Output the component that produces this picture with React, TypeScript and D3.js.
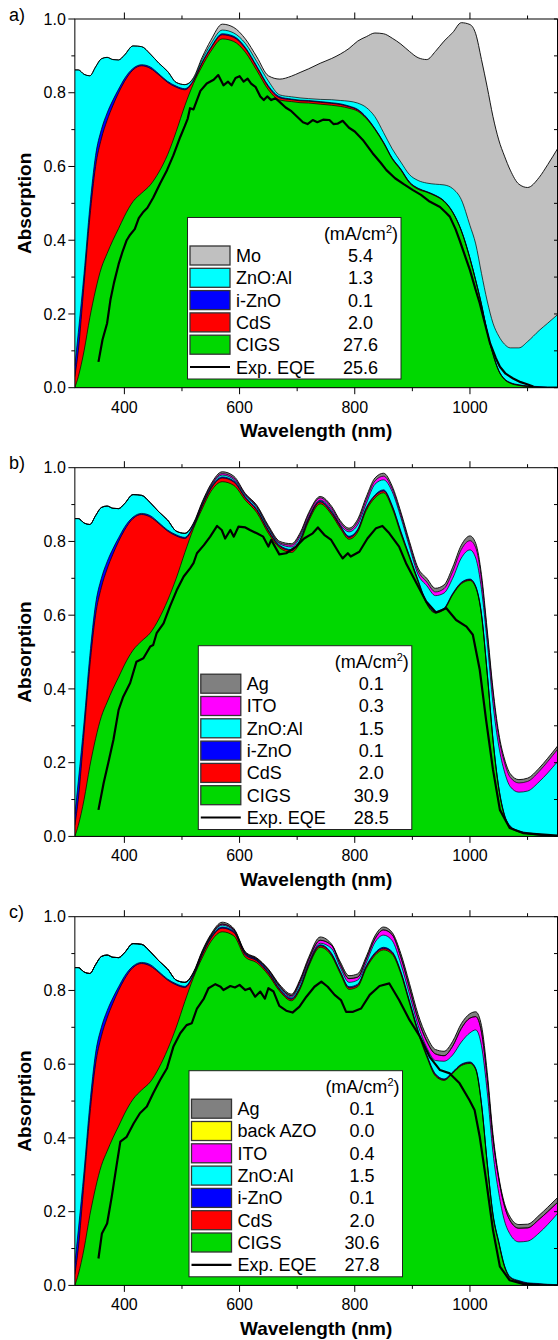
import React from 'react';
import * as d3 from 'd3';

// wavelength grid (nm) shared by all stacked layer curves
const wavelengths = [
  314, 320, 330, 340, 350, 360, 370, 380, 390, 400, 415, 430, 445, 460, 475, 490, 505,
  520, 535, 550, 570, 590, 610, 630, 650, 670,
  690, 705, 720, 740, 760, 775, 790, 805, 820, 835, 850, 865, 880, 895, 910, 925, 940, 955,
  970, 985, 1000, 1010, 1020, 1030, 1040, 1050, 1060, 1070, 1085, 1100, 1120, 1135, 1152,
];

// ---- panel a) : cumulative top of each layer (absorption)
const aCigs = [
  0, 0.03, 0.10, 0.19, 0.265, 0.325, 0.364, 0.40, 0.432, 0.465, 0.505, 0.528, 0.55, 0.585, 0.632, 0.695, 0.765,
  0.825, 0.872, 0.912, 0.946, 0.939, 0.91, 0.86, 0.808, 0.78,
  0.776, 0.773, 0.772, 0.769, 0.766, 0.763, 0.758, 0.75, 0.73, 0.70, 0.663, 0.62, 0.59, 0.555, 0.538, 0.53, 0.52,
  0.505, 0.475, 0.425, 0.35, 0.29, 0.225, 0.15, 0.09, 0.045, 0.022, 0.012, 0.006, 0.003, 0.001, 0, 0,
];
const aCds = [
  0.03, 0.10, 0.28, 0.46, 0.60, 0.675, 0.725, 0.765, 0.80, 0.83, 0.862, 0.873, 0.866, 0.848, 0.828, 0.815, 0.808,
  0.832, 0.88, 0.92, 0.957, 0.95, 0.92, 0.869, 0.816, 0.786,
  0.781, 0.778, 0.777, 0.774, 0.771, 0.768, 0.762, 0.753, 0.732, 0.702, 0.665, 0.622, 0.592, 0.557, 0.54, 0.531, 0.521,
  0.506, 0.476, 0.426, 0.351, 0.291, 0.226, 0.151, 0.091, 0.046, 0.023, 0.013, 0.007, 0.004, 0.002, 0.001, 0.001,
];
const aIzno = [
  0.06, 0.15, 0.31, 0.49, 0.63, 0.70, 0.745, 0.78, 0.81, 0.838, 0.866, 0.876, 0.87, 0.851, 0.831, 0.818, 0.811,
  0.834, 0.883, 0.923, 0.96, 0.953, 0.923, 0.872, 0.819, 0.789,
  0.783, 0.78, 0.779, 0.776, 0.773, 0.77, 0.764, 0.755, 0.734, 0.703, 0.666, 0.623, 0.593, 0.558, 0.541, 0.532, 0.522,
  0.507, 0.477, 0.427, 0.352, 0.292, 0.227, 0.152, 0.092, 0.047, 0.024, 0.014, 0.008, 0.005, 0.003, 0.002, 0.002,
];
const aAzo = [
  0.862, 0.862, 0.85, 0.846, 0.87, 0.892, 0.896, 0.89, 0.889, 0.902, 0.927, 0.925, 0.905, 0.88, 0.858, 0.828, 0.822,
  0.838, 0.89, 0.932, 0.97, 0.962, 0.934, 0.884, 0.832, 0.794,
  0.789, 0.786, 0.784, 0.782, 0.781, 0.779, 0.777, 0.772, 0.76, 0.735, 0.692, 0.648, 0.612, 0.578, 0.562, 0.555, 0.552,
  0.55, 0.54, 0.51, 0.44, 0.39, 0.31, 0.235, 0.175, 0.14, 0.118, 0.108, 0.108, 0.125, 0.155, 0.175, 0.198,
];
const aMo = [
  0.862, 0.862, 0.85, 0.846, 0.87, 0.892, 0.896, 0.89, 0.889, 0.902, 0.927, 0.925, 0.905, 0.88, 0.858, 0.828, 0.822,
  0.841, 0.896, 0.942, 0.986, 0.977, 0.946, 0.897, 0.846, 0.837,
  0.845, 0.855, 0.865, 0.88, 0.893, 0.905, 0.92, 0.94, 0.952, 0.962, 0.96, 0.948, 0.932, 0.912, 0.895, 0.89, 0.912,
  0.94, 0.963, 0.99, 0.985, 0.96, 0.89, 0.815, 0.735, 0.672, 0.628, 0.59, 0.552, 0.543, 0.57, 0.605, 0.648,
];
const aCurrents = [5.4, 1.3, 0.1, 2.0, 27.6];
const aEqeCurrent = 25.6;
const eqeA: [number, number][] = [
  [355, 0.07], [362, 0.13], [370, 0.175], [376, 0.24], [382, 0.285], [390, 0.335], [397, 0.37], [404, 0.40],
  [410, 0.415], [418, 0.43], [425, 0.46], [432, 0.475], [440, 0.488], [450, 0.515], [462, 0.554], [474, 0.59],
  [485, 0.63], [497, 0.68], [505, 0.71], [510, 0.73], [514, 0.758], [520, 0.755], [526, 0.78], [532, 0.805],
  [543, 0.825], [555, 0.835], [563, 0.848], [572, 0.82], [580, 0.83], [586, 0.82], [593, 0.84], [600, 0.845],
  [607, 0.83], [614, 0.838], [620, 0.825], [628, 0.815], [636, 0.79], [642, 0.78], [648, 0.79], [655, 0.78],
  [662, 0.785], [669, 0.776], [680, 0.76], [690, 0.75], [700, 0.735], [710, 0.72], [718, 0.715], [727, 0.726],
  [735, 0.72], [745, 0.727], [756, 0.726], [763, 0.715], [770, 0.716], [779, 0.724], [790, 0.705], [800, 0.695],
  [814, 0.672], [831, 0.636], [845, 0.61], [855, 0.59], [870, 0.568], [885, 0.552], [901, 0.536], [915, 0.523],
  [930, 0.505], [948, 0.49], [958, 0.475], [965, 0.464], [975, 0.43], [982, 0.40], [992, 0.355], [1000, 0.319],
  [1010, 0.265], [1017, 0.229], [1025, 0.18], [1035, 0.12], [1045, 0.08], [1052, 0.057], [1062, 0.038],
  [1075, 0.025], [1088, 0.015], [1098, 0.01], [1110, 0.003],
];

// ---- panel b)
const bCigs = [
  0, 0.03, 0.10, 0.19, 0.265, 0.325, 0.364, 0.40, 0.432, 0.465, 0.505, 0.53, 0.552, 0.59, 0.64, 0.70, 0.77,
  0.835, 0.888, 0.935, 0.962, 0.952, 0.912, 0.878, 0.822, 0.782,
  0.77, 0.797, 0.855, 0.902, 0.872, 0.835, 0.806, 0.825, 0.884, 0.918, 0.932, 0.89, 0.82, 0.755, 0.69, 0.63, 0.606,
  0.615, 0.655, 0.685, 0.694, 0.675, 0.60, 0.44, 0.26, 0.13, 0.055, 0.025, 0.012, 0.007, 0.003, 0.001, 0,
];
const bCds = [
  0.03, 0.10, 0.28, 0.46, 0.60, 0.675, 0.725, 0.765, 0.80, 0.83, 0.862, 0.873, 0.866, 0.848, 0.828, 0.815, 0.808,
  0.84, 0.895, 0.942, 0.972, 0.961, 0.918, 0.884, 0.828, 0.786,
  0.775, 0.802, 0.86, 0.907, 0.877, 0.84, 0.811, 0.83, 0.889, 0.923, 0.937, 0.895, 0.825, 0.759, 0.693, 0.632, 0.608,
  0.617, 0.657, 0.687, 0.696, 0.677, 0.602, 0.442, 0.262, 0.132, 0.057, 0.026, 0.013, 0.008, 0.004, 0.002, 0.001,
];
const bIzno = [
  0.06, 0.15, 0.31, 0.49, 0.63, 0.70, 0.745, 0.78, 0.81, 0.838, 0.866, 0.876, 0.87, 0.851, 0.831, 0.818, 0.811,
  0.843, 0.898, 0.945, 0.975, 0.964, 0.921, 0.887, 0.831, 0.789,
  0.778, 0.805, 0.863, 0.91, 0.88, 0.843, 0.814, 0.833, 0.892, 0.926, 0.94, 0.898, 0.828, 0.761, 0.695, 0.634, 0.61,
  0.619, 0.659, 0.689, 0.698, 0.679, 0.604, 0.444, 0.264, 0.134, 0.059, 0.028, 0.015, 0.01, 0.006, 0.003, 0.002,
];
const bAzo = [
  0.862, 0.862, 0.85, 0.846, 0.87, 0.892, 0.896, 0.89, 0.889, 0.902, 0.927, 0.925, 0.905, 0.88, 0.858, 0.828, 0.822,
  0.846, 0.902, 0.948, 0.98, 0.968, 0.925, 0.892, 0.836, 0.793,
  0.785, 0.812, 0.866, 0.912, 0.884, 0.845, 0.826, 0.845, 0.903, 0.955, 0.967, 0.935, 0.865, 0.785, 0.71, 0.68, 0.653,
  0.66, 0.70, 0.755, 0.777, 0.755, 0.67, 0.525, 0.36, 0.245, 0.175, 0.135, 0.12, 0.123, 0.148, 0.172, 0.203,
];
const bIto = [
  0.862, 0.862, 0.85, 0.846, 0.87, 0.892, 0.896, 0.89, 0.889, 0.902, 0.927, 0.925, 0.905, 0.88, 0.858, 0.828, 0.822,
  0.848, 0.904, 0.951, 0.984, 0.972, 0.928, 0.895, 0.839, 0.796,
  0.79, 0.818, 0.873, 0.918, 0.89, 0.851, 0.831, 0.853, 0.913, 0.964, 0.977, 0.943, 0.873, 0.793, 0.72, 0.69, 0.663,
  0.672, 0.718, 0.778, 0.802, 0.783, 0.698, 0.548, 0.39, 0.27, 0.2, 0.16, 0.145, 0.149, 0.176, 0.203, 0.236,
];
const bAg = [
  0.862, 0.862, 0.85, 0.846, 0.87, 0.892, 0.896, 0.89, 0.889, 0.902, 0.927, 0.925, 0.905, 0.88, 0.858, 0.828, 0.822,
  0.85, 0.907, 0.955, 0.989, 0.977, 0.93, 0.898, 0.843, 0.80,
  0.794, 0.823, 0.878, 0.922, 0.895, 0.856, 0.836, 0.86, 0.921, 0.972, 0.985, 0.95, 0.88, 0.80, 0.728, 0.70, 0.673,
  0.682, 0.73, 0.79, 0.815, 0.795, 0.71, 0.56, 0.40, 0.28, 0.21, 0.17, 0.154, 0.158, 0.185, 0.212, 0.245,
];
const bCurrents = [0.1, 0.3, 1.5, 0.1, 2.0, 30.9];
const bEqeCurrent = 28.5;
const eqeB: [number, number][] = [
  [355, 0.072], [364, 0.145], [372, 0.199], [381, 0.262], [390, 0.343], [398, 0.379], [410, 0.416], [421, 0.474],
  [433, 0.483], [445, 0.515], [450, 0.519], [456, 0.551], [468, 0.578], [479, 0.623], [491, 0.668], [503, 0.705],
  [514, 0.727], [520, 0.741], [526, 0.768], [538, 0.79], [549, 0.813], [561, 0.842], [569, 0.831], [575, 0.808],
  [584, 0.831], [590, 0.813], [598, 0.84], [610, 0.838], [618, 0.831], [630, 0.822], [641, 0.813], [650, 0.786],
  [655, 0.804], [669, 0.765], [681, 0.768], [698, 0.786], [712, 0.808], [727, 0.822], [736, 0.838], [747, 0.818],
  [759, 0.804], [773, 0.768], [779, 0.754], [788, 0.768], [793, 0.759], [808, 0.772], [822, 0.808], [837, 0.836],
  [848, 0.842], [860, 0.822], [877, 0.786], [889, 0.741], [907, 0.687], [924, 0.637], [941, 0.607], [959, 0.619],
  [976, 0.587], [994, 0.569], [1005, 0.547], [1017, 0.452], [1028, 0.316], [1040, 0.181], [1052, 0.072],
  [1069, 0.023], [1092, 0.009], [1152, 0.002],
];

// ---- panel c)
const cCigs = [
  0, 0.03, 0.10, 0.19, 0.265, 0.325, 0.364, 0.40, 0.432, 0.465, 0.505, 0.53, 0.552, 0.59, 0.64, 0.70, 0.77,
  0.835, 0.888, 0.932, 0.959, 0.948, 0.89, 0.875, 0.842, 0.797,
  0.772, 0.803, 0.865, 0.917, 0.893, 0.845, 0.803, 0.81, 0.86, 0.895, 0.91, 0.898, 0.845, 0.765, 0.685, 0.62, 0.568,
  0.556, 0.575, 0.596, 0.602, 0.585, 0.49, 0.33, 0.19, 0.115, 0.05, 0.02, 0.01, 0.004, 0.002, 0.001, 0,
];
const cCds = [
  0.03, 0.10, 0.28, 0.46, 0.60, 0.675, 0.725, 0.765, 0.80, 0.83, 0.862, 0.873, 0.866, 0.848, 0.828, 0.815, 0.808,
  0.84, 0.895, 0.94, 0.969, 0.957, 0.896, 0.88, 0.847, 0.801,
  0.776, 0.807, 0.869, 0.921, 0.897, 0.849, 0.807, 0.814, 0.864, 0.899, 0.914, 0.902, 0.849, 0.769, 0.689, 0.623, 0.571,
  0.558, 0.577, 0.598, 0.604, 0.587, 0.492, 0.332, 0.192, 0.117, 0.052, 0.021, 0.011, 0.005, 0.003, 0.002, 0.001,
];
const cIzno = [
  0.06, 0.15, 0.31, 0.49, 0.63, 0.70, 0.745, 0.78, 0.81, 0.838, 0.866, 0.876, 0.87, 0.851, 0.831, 0.818, 0.811,
  0.843, 0.898, 0.943, 0.972, 0.96, 0.899, 0.883, 0.85, 0.804,
  0.779, 0.81, 0.872, 0.924, 0.9, 0.852, 0.81, 0.817, 0.867, 0.902, 0.917, 0.905, 0.852, 0.772, 0.692, 0.626, 0.574,
  0.56, 0.579, 0.6, 0.606, 0.589, 0.494, 0.334, 0.194, 0.119, 0.054, 0.023, 0.013, 0.007, 0.005, 0.003, 0.002,
];
const cAzo = [
  0.862, 0.862, 0.85, 0.846, 0.87, 0.892, 0.896, 0.89, 0.889, 0.902, 0.927, 0.925, 0.905, 0.88, 0.858, 0.828, 0.822,
  0.846, 0.902, 0.946, 0.977, 0.962, 0.9, 0.884, 0.853, 0.808,
  0.782, 0.818, 0.876, 0.928, 0.913, 0.862, 0.822, 0.828, 0.875, 0.93, 0.95, 0.935, 0.872, 0.79, 0.705, 0.645, 0.61,
  0.608, 0.625, 0.66, 0.685, 0.693, 0.65, 0.525, 0.36, 0.25, 0.175, 0.138, 0.118, 0.12, 0.142, 0.165, 0.195,
];
const cIto = [
  0.862, 0.862, 0.85, 0.846, 0.87, 0.892, 0.896, 0.89, 0.889, 0.902, 0.927, 0.925, 0.905, 0.88, 0.858, 0.828, 0.822,
  0.848, 0.904, 0.948, 0.98, 0.965, 0.903, 0.886, 0.856, 0.811,
  0.786, 0.825, 0.884, 0.936, 0.922, 0.87, 0.832, 0.836, 0.885, 0.94, 0.964, 0.951, 0.89, 0.807, 0.722, 0.662, 0.628,
  0.623, 0.649, 0.697, 0.725, 0.729, 0.687, 0.562, 0.398, 0.289, 0.215, 0.175, 0.155, 0.156, 0.179, 0.2, 0.225,
];
const cBackAzo = cIto; // 0.0 mA/cm2: no visible thickness above ITO
const cAg = [
  0.862, 0.862, 0.85, 0.846, 0.87, 0.892, 0.896, 0.89, 0.889, 0.902, 0.927, 0.925, 0.905, 0.88, 0.858, 0.828, 0.822,
  0.85, 0.907, 0.952, 0.985, 0.968, 0.905, 0.888, 0.858, 0.815,
  0.79, 0.83, 0.89, 0.945, 0.925, 0.877, 0.84, 0.845, 0.892, 0.948, 0.972, 0.957, 0.9, 0.819, 0.735, 0.675, 0.64,
  0.635, 0.662, 0.71, 0.737, 0.742, 0.705, 0.578, 0.41, 0.295, 0.222, 0.185, 0.165, 0.166, 0.19, 0.212, 0.238,
];
const cCurrents = [0.1, 0.0, 0.4, 1.5, 0.1, 2.0, 30.6];
const cEqeCurrent = 27.8;
const eqeC: [number, number][] = [
  [355, 0.073], [361, 0.141], [370, 0.168], [378, 0.24], [387, 0.331], [393, 0.39], [404, 0.403], [416, 0.439],
  [427, 0.467], [439, 0.485], [450, 0.521], [462, 0.557], [474, 0.589], [485, 0.647], [497, 0.684], [508, 0.706],
  [517, 0.711], [526, 0.751], [538, 0.778], [546, 0.806], [558, 0.817], [567, 0.81], [572, 0.801], [584, 0.812],
  [592, 0.808], [600, 0.815], [610, 0.801], [618, 0.806], [627, 0.783], [636, 0.797], [644, 0.778], [650, 0.806],
  [659, 0.797], [669, 0.758], [681, 0.745], [692, 0.74], [704, 0.756], [716, 0.783], [730, 0.81], [742, 0.824],
  [753, 0.81], [765, 0.788], [776, 0.774], [785, 0.742], [797, 0.742], [811, 0.751], [826, 0.788], [843, 0.812],
  [860, 0.819], [877, 0.774], [895, 0.72], [913, 0.675], [930, 0.62], [948, 0.584], [965, 0.575], [982, 0.548],
  [999, 0.503], [1008, 0.476], [1017, 0.403], [1028, 0.286], [1040, 0.15], [1052, 0.051], [1069, 0.014],
  [1092, 0.004], [1121, 0.001],
];

const xMajor = [400, 600, 800, 1000];
const xMinor = [500, 700, 900, 1100];
const yMajor = [0, 0.2, 0.4, 0.6, 0.8, 1.0];
const yMinor = [0.1, 0.3, 0.5, 0.7, 0.9];

const COLORS: Record<string, string> = {
  CIGS: '#00d800',
  CdS: '#ff0000',
  'i-ZnO': '#0000ff',
  'ZnO:Al': '#00ffff',
  ITO: '#ff00ff',
  'back AZO': '#ffff00',
  Ag: '#808080',
  Mo: '#c0c0c0',
};

interface Layer { name: string; top: number[] }
interface PanelCfg {
  label: string;
  layers: Layer[]; // bottom to top
  currents: number[]; // legend order (top layer first)
  eqe: [number, number][];
  eqeCurrent: number;
  legendX: number;
  legendTop: number; // relative to panel top
}

const panels: PanelCfg[] = [
  {
    label: 'a)',
    layers: [
      { name: 'CIGS', top: aCigs }, { name: 'CdS', top: aCds }, { name: 'i-ZnO', top: aIzno },
      { name: 'ZnO:Al', top: aAzo }, { name: 'Mo', top: aMo },
    ],
    currents: aCurrents, eqe: eqeA, eqeCurrent: aEqeCurrent, legendX: 187.5, legendTop: 198.5,
  },
  {
    label: 'b)',
    layers: [
      { name: 'CIGS', top: bCigs }, { name: 'CdS', top: bCds }, { name: 'i-ZnO', top: bIzno },
      { name: 'ZnO:Al', top: bAzo }, { name: 'ITO', top: bIto }, { name: 'Ag', top: bAg },
    ],
    currents: bCurrents, eqe: eqeB, eqeCurrent: bEqeCurrent, legendX: 198.3, legendTop: 178,
  },
  {
    label: 'c)',
    layers: [
      { name: 'CIGS', top: cCigs }, { name: 'CdS', top: cCds }, { name: 'i-ZnO', top: cIzno },
      { name: 'ZnO:Al', top: cAzo }, { name: 'ITO', top: cIto }, { name: 'back AZO', top: cBackAzo },
      { name: 'Ag', top: cAg },
    ],
    currents: cCurrents, eqe: eqeC, eqeCurrent: cEqeCurrent, legendX: 189, legendTop: 154,
  },
];

const W = 558;
const H = 1340;
const plotLeft = 74.85;
const plotRight = 557.5;
const plotH = 368.7;
const panelTops = [19, 467.7, 916.7];
const FONT = "'Liberation Sans', Arial, Helvetica, sans-serif";

const x = d3.scaleLinear().domain([314, 1152]).range([plotLeft, plotRight]);
const fmt = d3.format('.1f');

function Panel({ cfg, top, idx }: { cfg: PanelCfg; top: number; idx: number }) {
  const y = d3.scaleLinear().domain([0, 1]).range([top + plotH, top]);
  const area = d3.area<number>()
    .x((_, i) => x(wavelengths[i]))
    .y0(y(0))
    .y1(d => y(d))
    .curve(d3.curveMonotoneX);
  const edge = d3.line<number>()
    .x((_, i) => x(wavelengths[i]))
    .y(d => y(d))
    .curve(d3.curveMonotoneX);
  const eqeLine = d3.line<[number, number]>()
    .x(d => x(d[0]))
    .y(d => y(d[1]));

  const clipId = `clip-${idx}`;
  const bottom = top + plotH;
  const legendRows = [...cfg.layers].reverse();
  const nRows = legendRows.length + 1;
  const rowStep = 22.3;
  const lgW = 213.5;
  const lgH = 38 + (nRows - 1) * rowStep + 12;
  const lgY = top + cfg.legendTop;

  return (
    <g>
      <defs>
        <clipPath id={clipId}>
          <rect x={plotLeft} y={top} width={plotRight - plotLeft} height={plotH} />
        </clipPath>
      </defs>
      <g clipPath={`url(#${clipId})`}>
        {[...cfg.layers].reverse().map(l => (
          <path key={l.name} d={area(l.top) ?? ''} fill={COLORS[l.name]} stroke="none" />
        ))}
        {cfg.layers.map((l, i) => (
          <path key={'e' + l.name} d={edge(l.top) ?? ''} fill="none" stroke="#000"
            strokeWidth={i === cfg.layers.length - 1 ? 0.9 : 0.7} />
        ))}
        <path d={eqeLine(cfg.eqe) ?? ''} fill="none" stroke="#000" strokeWidth={2.2}
          strokeLinejoin="round" />
      </g>

      {/* legend */}
      <g transform={`translate(${cfg.legendX},${lgY})`} fontFamily={FONT} fontSize={18} fill="#000">
        <rect x={0} y={0} width={lgW} height={lgH} fill="#fff" stroke="#222" strokeWidth={1} />
        <text x={lgW - 3} y={22.5} textAnchor="end">
          (mA/cm<tspan fontSize={11} dy={-7}>2</tspan><tspan dy={7}>)</tspan>
        </text>
        {legendRows.map((l, i) => {
          const cy = 38 + i * rowStep;
          return (
            <g key={l.name}>
              <rect x={2.5} y={cy - 9.5} width={40} height={19} fill={COLORS[l.name]}
                stroke="#333" strokeWidth={1.3} />
              <text x={48.5} y={cy + 6.5}>{l.name}</text>
              <text x={173} y={cy + 6.5} textAnchor="middle">{fmt(cfg.currents[i])}</text>
            </g>
          );
        })}
        {(() => {
          const cy = 38 + legendRows.length * rowStep;
          return (
            <g>
              <line x1={2.5} x2={42.5} y1={cy} y2={cy} stroke="#000" strokeWidth={2.2} />
              <text x={48.5} y={cy + 6.5}>Exp. EQE</text>
              <text x={173} y={cy + 6.5} textAnchor="middle">{fmt(cfg.eqeCurrent)}</text>
            </g>
          );
        })()}
      </g>

      {/* frame and ticks */}
      <rect x={plotLeft} y={top} width={plotRight - plotLeft} height={plotH} fill="none"
        stroke="#000" strokeWidth={1} />
      <g stroke="#000" strokeWidth={1}>
        {xMajor.map(t => (
          <g key={'xM' + t}>
            <line x1={x(t)} x2={x(t)} y1={bottom} y2={bottom + 6.5} />
            <line x1={x(t)} x2={x(t)} y1={top} y2={top - 6.5} />
          </g>
        ))}
        {xMinor.map(t => (
          <g key={'xm' + t}>
            <line x1={x(t)} x2={x(t)} y1={bottom} y2={bottom + 3.5} />
            <line x1={x(t)} x2={x(t)} y1={top} y2={top - 3.5} />
          </g>
        ))}
        {yMajor.map(t => (
          <g key={'yM' + t}>
            <line x1={plotLeft} x2={plotLeft - 6.5} y1={y(t)} y2={y(t)} />
            <line x1={plotRight} x2={plotRight - 3.5} y1={y(t)} y2={y(t)} />
          </g>
        ))}
        {yMinor.map(t => (
          <g key={'ym' + t}>
            <line x1={plotLeft} x2={plotLeft - 3.5} y1={y(t)} y2={y(t)} />
            <line x1={plotRight} x2={plotRight - 3.5} y1={y(t)} y2={y(t)} />
          </g>
        ))}
      </g>
      <g fontFamily={FONT} fontSize={16} fill="#000">
        {xMajor.map(t => (
          <text key={'xl' + t} x={x(t)} y={bottom + 25} textAnchor="middle">{t}</text>
        ))}
        {yMajor.map(t => (
          <text key={'yl' + t} x={plotLeft - 9} y={y(t) + 5.7} textAnchor="end">{fmt(t)}</text>
        ))}
      </g>
      <text x={(plotLeft + plotRight) / 2} y={bottom + 49.5} textAnchor="middle"
        fontFamily={FONT} fontSize={19} fontWeight="bold">Wavelength (nm)</text>
      <text transform={`translate(31,${top + plotH / 2}) rotate(-90)`} textAnchor="middle"
        fontFamily={FONT} fontSize={19} fontWeight="bold">Absorption</text>
      <text x={9} y={top + 1.5} fontFamily={FONT} fontSize={18}>{cfg.label}</text>
    </g>
  );
}

export default function App() {
  return (
    <svg width={W} height={H} viewBox={`0 0 ${W} ${H}`}
      style={{ position: 'absolute', left: 0, top: 0, background: '#fff' }}>
      <rect width={W} height={H} fill="#fff" />
      {panels.map((p, i) => (
        <Panel key={p.label} cfg={p} top={panelTops[i]} idx={i} />
      ))}
    </svg>
  );
}
